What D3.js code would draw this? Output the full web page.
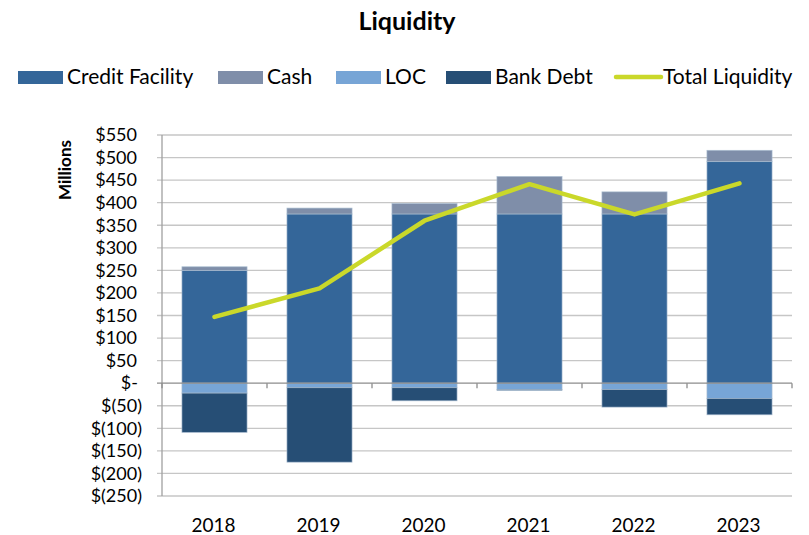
<!DOCTYPE html>
<html>
<head>
<meta charset="utf-8">
<script src="https://cdn.jsdelivr.net/npm/d3@7"></script>
<style>
  html, body { margin: 0; padding: 0; background: #fff; }
  svg { display: block; font-family: Lato, "Open Sans", sans-serif; }
</style>
</head>
<body>
<svg id="chart" width="809" height="535"></svg>
<script>
const years = ["2018", "2019", "2020", "2021", "2022", "2023"];
const creditFacility = [250, 375, 375, 375, 375, 491];
const cash = [8, 13, 23, 83, 49, 25];
const loc = [-22, -10, -10, -14, -14, -34];
const bankDebt = [-87, -165, -29, -2, -39, -36];
const totalLiquidity = [147, 210, 360, 441, 374, 443];
const yTicks = [550, 500, 450, 400, 350, 300, 250, 200, 150, 100, 50, 0, -50, -100, -150, -200, -250];

const seriesNames = ["Credit Facility", "Cash", "LOC", "Bank Debt", "Total Liquidity"];
const colors = {
  "Credit Facility": "#346699",
  "Cash": "#7f8ea9",
  "LOC": "#77a5d6",
  "Bank Debt": "#264e75",
  "Total Liquidity": "#cad82a"
};

const svg = d3.select("#chart");
const margin = { left: 162, right: 17, top: 135, bottom: 39 };
const W = 809, H = 535;

const x = d3.scaleBand().domain(years).range([margin.left, W - margin.right]).paddingInner(0.38).paddingOuter(0.19);
const y = d3.scaleLinear().domain([-250, 550]).range([H - margin.bottom, margin.top]);

// Title
svg.append("text").attr("x", 407).attr("y", 30).attr("text-anchor", "middle")
  .attr("font-weight", "bold").attr("font-size", 25).attr("fill", "#000").text("Liquidity");

// Y axis title
svg.append("text").attr("transform", "translate(71,170) rotate(-90)")
  .attr("text-anchor", "middle").attr("font-weight", "bold").attr("font-size", 17).attr("fill", "#000").text("Millions");

// gridlines
const x0 = margin.left, x1 = W - margin.right;
svg.append("g").selectAll("line").data(yTicks.filter(d => d !== 0)).join("line")
  .attr("x1", x0 - 5).attr("x2", x1).attr("y1", d => y(d)).attr("y2", d => y(d))
  .attr("stroke", "#c6c6c6").attr("stroke-width", 1.3);

// y tick labels
const fmt = d => d === 0 ? "$-" : d < 0 ? "$(" + Math.abs(d) + ")" : "$" + d;
svg.append("g").selectAll("text").data(yTicks).join("text")
  .attr("x", d => d < 0 ? 142 : d === 0 ? 138 : 137)
  .attr("y", d => y(d)).attr("dy", "0.35em").attr("text-anchor", "end")
  .attr("font-size", 18).attr("fill", "#000").text(fmt);

// stacks
const data = years.map((yr, i) => ({ year: yr, credit: creditFacility[i], cash: cash[i], loc: loc[i], bank: bankDebt[i] }));
const segs = [];
data.forEach(d => {
  segs.push({ year: d.year, s: "Credit Facility", y0: 0, y1: d.credit });
  segs.push({ year: d.year, s: "Cash", y0: d.credit, y1: d.credit + d.cash });
  segs.push({ year: d.year, s: "LOC", y0: 0, y1: d.loc });
  segs.push({ year: d.year, s: "Bank Debt", y0: d.loc, y1: d.loc + d.bank });
});
svg.append("g").selectAll("rect").data(segs).join("rect")
  .attr("x", d => x(d.year)).attr("width", x.bandwidth())
  .attr("y", d => y(Math.max(d.y0, d.y1))).attr("height", d => Math.abs(y(d.y0) - y(d.y1)))
  .attr("fill", d => colors[d.s]).attr("stroke", "#a8bbd0").attr("stroke-width", 0.8).attr("stroke-opacity", 0.8);

// axes lines
svg.append("line").attr("x1", x0).attr("x2", x0).attr("y1", y(550)).attr("y2", y(-250))
  .attr("stroke", "#a0a0a0").attr("stroke-width", 1.3);
svg.append("line").attr("x1", x0 - 5).attr("x2", x1).attr("y1", y(0)).attr("y2", y(0))
  .attr("stroke", "#8c8c8c").attr("stroke-width", 1.3);
svg.append("g").selectAll("line").data(d3.range(years.length + 1)).join("line")
  .attr("x1", i => x0 + i * (x1 - x0) / years.length).attr("x2", i => x0 + i * (x1 - x0) / years.length)
  .attr("y1", y(0)).attr("y2", y(0) + 5).attr("stroke", "#8c8c8c").attr("stroke-width", 1.3);

// x labels
svg.append("g").selectAll("text").data(years).join("text")
  .attr("x", d => x(d) + x.bandwidth() / 2 - 1).attr("y", 532).attr("text-anchor", "middle")
  .attr("font-size", 19).attr("fill", "#000").text(d => d);

// line
const line = d3.line().x((d, i) => x(years[i]) + x.bandwidth() / 2).y(d => y(d));
svg.append("path").datum(totalLiquidity).attr("d", line).attr("fill", "none")
  .attr("stroke", colors["Total Liquidity"]).attr("stroke-width", 4.5)
  .attr("stroke-linecap", "round").attr("stroke-linejoin", "round");

// legend
const legendX = [18, 218, 336, 446, 614];
const lg = svg.append("g");
seriesNames.forEach((name, i) => {
  const g = lg.append("g").attr("transform", `translate(${legendX[i]},0)`);
  if (name === "Total Liquidity") {
    g.append("line").attr("x1", 2).attr("x2", 47).attr("y1", 77).attr("y2", 77)
      .attr("stroke", colors[name]).attr("stroke-width", 4.5).attr("stroke-linecap", "round");
  } else {
    g.append("rect").attr("x", 0).attr("y", 71).attr("width", 45).attr("height", 13).attr("fill", colors[name]);
  }
  g.append("text").attr("x", 49).attr("y", 77).attr("dy", "0.35em")
    .attr("font-size", 21).attr("fill", "#000").text(name);
});
</script>
</body>
</html>
